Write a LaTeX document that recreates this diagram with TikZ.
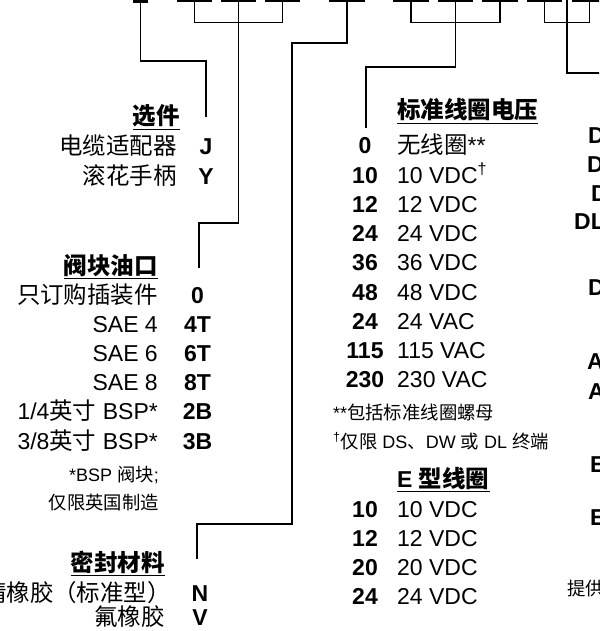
\documentclass[tikz,border=0pt]{standalone}
\usepackage{fontspec}
\setmainfont{Liberation Sans}
\newfontfamily\cjk[Scale=1.02]{Noto Sans CJK SC}
\newcommand\zh[1]{{\cjk #1}}
\begin{document}
\begin{tikzpicture}[x=1pt,y=-1pt,
  lbl/.style={font=\fontsize{23}{26}\selectfont, inner sep=0pt},
  code/.style={font=\fontsize{23}{26}\selectfont\bfseries, inner sep=0pt, anchor=base},
  rcode/.style={font=\fontsize{23}{26}\selectfont\bfseries, inner sep=0pt, anchor=base west},
  note/.style={font=\fontsize{18}{20}\selectfont, inner sep=0pt},
  head/.style={font=\fontsize{23}{26}\selectfont\bfseries, inner sep=0pt},
  conn/.style={line width=1.3pt},
  uline/.style={line width=1.3pt},
  bar/.style={fill=black}]
\useasboundingbox (0,0) rectangle (599,631);
\clip (0,0) rectangle (599,631);

% top bars
\fill[bar] (133,-1) rectangle (148,2.7);
\foreach \a/\b in {177/212,221/256,265/300,329/365,393/429,438/473,482/518,527/562,572/607}
  \fill[bar] (\a,-1) rectangle (\b,1.6);

% ---------- left column ----------
\node[head, anchor=base east] (hOpt) at (180,125) {\zh{选件}};
\draw[uline] ([yshift=-4.5pt]hOpt.base west) -- ([yshift=-4.5pt]hOpt.base east);
\node[lbl, anchor=base east] (l1) at (177,155) {\zh{电缆适配器}};
\node[code] (cJ) at (206,155) {J};
\node[lbl, anchor=base east] (l2) at (177,185) {\zh{滚花手柄}};
\node[code] (cY) at (206,185) {Y};

\node[head, anchor=base east] (hPort) at (158,274) {\zh{阀块油口}};
\draw[uline] ([yshift=-4.5pt]hPort.base west) -- ([yshift=-4.5pt]hPort.base east);
\node[lbl, anchor=base east] (p0) at (158,303) {\zh{只订购插装件}};
\node[code] (c0) at (197.5,303) {0};
\node[lbl, anchor=base east] (p1) at (158,332.2) {SAE 4};
\node[code] (c4T) at (197.5,332.2) {4T};
\node[lbl, anchor=base east] (p2) at (158,361.4) {SAE 6};
\node[code] (c6T) at (197.5,361.4) {6T};
\node[lbl, anchor=base east] (p3) at (158,390.6) {SAE 8};
\node[code] (c8T) at (197.5,390.6) {8T};
\node[lbl, anchor=base east] (p4) at (158,419.8) {1/4\zh{英寸} BSP*};
\node[code] (c2B) at (197.5,419.8) {2B};
\node[lbl, anchor=base east] (p5) at (158,449) {3/8\zh{英寸} BSP*};
\node[code] (c3B) at (197.5,449) {3B};
\node[note, anchor=base east] (n1) at (159,481) {*BSP \zh{阀块};};
\node[note, anchor=base east] (n2) at (159,509) {\zh{仅限英国制造}};

\node[head, anchor=base east] (hSeal) at (165,571) {\zh{密封材料}};
\draw[uline] ([yshift=-4.5pt]hSeal.base west) -- ([yshift=-4.5pt]hSeal.base east);
\node[lbl, anchor=base east] (s1) at (171,601) {\zh{腈橡胶（标准型）}};
\node[code] (cN) at (200,601) {N};
\node[lbl, anchor=base east] (s2) at (165,625) {\zh{氟橡胶}};
\node[code] (cV) at (200,625) {V};

% ---------- middle column ----------
\node[head, anchor=base west] (hVolt) at (397,119) {\zh{标准线圈电压}};
\draw[uline] ([yshift=-4.5pt]hVolt.base west) -- ([yshift=-4.5pt]hVolt.base east);
\foreach \c/\v [count=\i from 0] in {0/{\zh{无线圈}**},10/{10 VDC\textsuperscript{†}},12/12 VDC,24/24 VDC,36/36 VDC,48/48 VDC,24/24 VAC,115/115 VAC,230/230 VAC}{
  \node[code] (v\i) at (365,154+29.2*\i) {\c};
  \node[lbl, anchor=base west] (w\i) at (397,154+29.2*\i) {\v};
}
\node[note, anchor=base west] (n3) at (333,419) {**\zh{包括标准线圈螺母}};
\node[note, anchor=base west] (n4) at (333,448) {\textsuperscript{†}\zh{仅限} DS\zh{、}DW \zh{或} DL \zh{终端}};

\node[head, anchor=base west] (hE) at (397,487) {E \zh{型线圈}};
\draw[uline] ([yshift=-4.5pt]hE.base west) -- ([yshift=-4.5pt]hE.base east);
\foreach \c [count=\i from 0] in {10,12,20,24}{
  \node[code] (e\i) at (365,517+29.3*\i) {\c};
  \node[lbl, anchor=base west] (f\i) at (397,517+29.3*\i) {\c\ VDC};
}

% ---------- right column (cut off) ----------
\node[rcode] (r1) at (588,144) {D};
\node[rcode] (r2) at (587,172) {D};
\node[rcode] (r3) at (591,201) {D};
\node[rcode] (r4) at (574,229) {DL};
\node[rcode] (r5) at (588,295) {D};
\node[rcode] (r6) at (587,369) {A};
\node[rcode] (r7) at (588,399) {A};
\node[rcode] (r8) at (590,472) {E};
\node[rcode] (r9) at (590,525) {E};
\node[note, anchor=base west] (r10) at (567,595) {\zh{提供}};

% ---------- connectors ----------
\coordinate (t1) at (140.5,0);
\coordinate (e1) at (206,117);
\draw[conn] (t1) |- (173,61) -| (e1);

\coordinate (bA1) at (194.5,0); \coordinate (bA2) at (238.5,0); \coordinate (bA3) at (282.5,0);
\draw[conn] (bA1) |- (bA3 |- 0,22.7) -- (bA3);
\coordinate (e2) at (199,268);
\draw[conn] (bA2) |- (219,223) -| (e2);

\coordinate (t4) at (347,0);
\coordinate (e3) at (197,559);
\draw[conn] (t4) |- (292,43) |- (244,524) -| (e3);

\coordinate (bB1) at (411,0); \coordinate (bB2) at (455.5,0); \coordinate (bB3) at (500,0);
\draw[conn] (bB1) |- (bB3 |- 0,22.7) -- (bB3);
\coordinate (e4) at (366,128);
\draw[conn] (bB2) |- (410,67) -| (e4);

\coordinate (bC1) at (544.5,0); \coordinate (bC2) at (567,0); \coordinate (bC3) at (589.5,0);
\draw[conn] (bC1) |- (bC3 |- 0,22.7) -- (bC3);
\coordinate (e5) at (610,73);
\draw[conn] (bC2) |- (e5);
\end{tikzpicture}
\end{document}
